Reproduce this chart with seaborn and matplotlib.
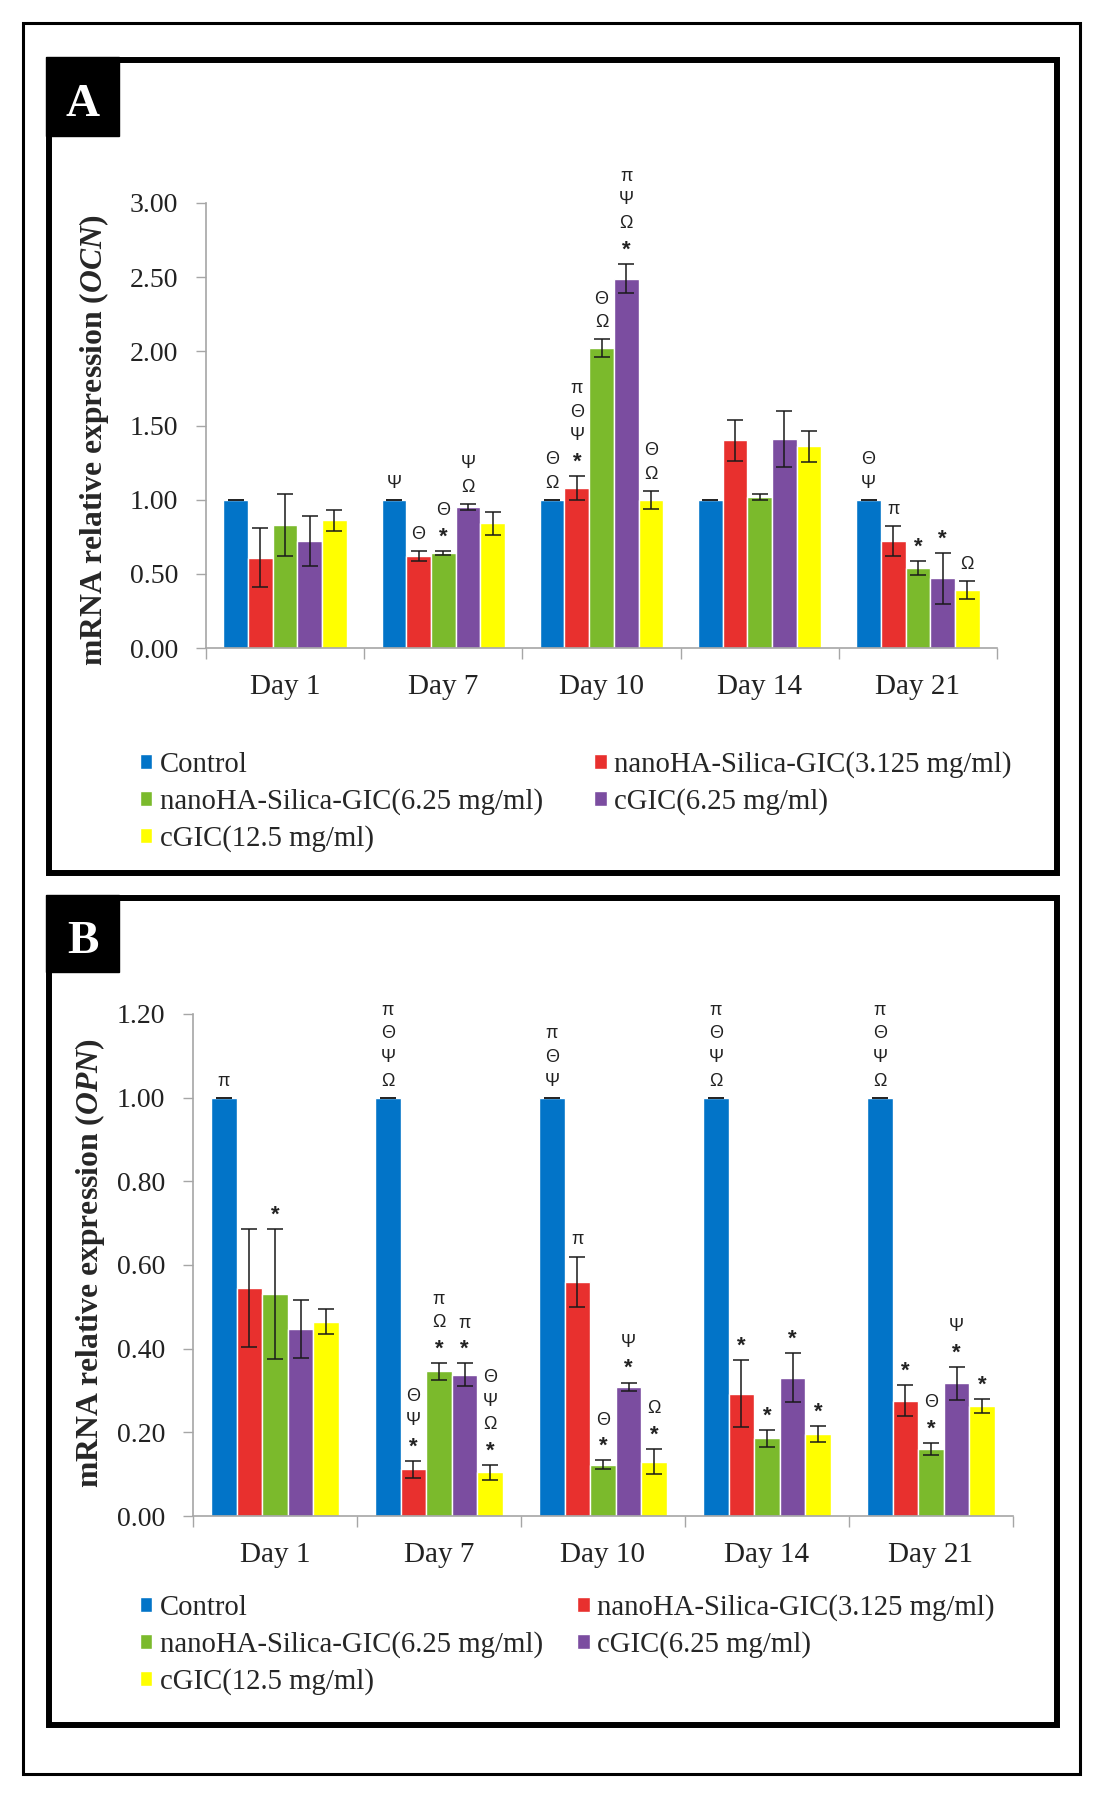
import numpy as np
import pandas as pd
import matplotlib
matplotlib.use("Agg")
import matplotlib.pyplot as plt
import seaborn as sns
from matplotlib.patches import Rectangle
from matplotlib.ticker import FormatStrFormatter, MultipleLocator, FixedLocator

days = ["Day 1", "Day 7", "Day 10", "Day 14", "Day 21"]
groups = ["Control", "nanoHA-Silica-GIC(3.125 mg/ml)", "nanoHA-Silica-GIC(6.25 mg/ml)",
          "cGIC(6.25 mg/ml)", "cGIC(12.5 mg/ml)"]
colors = ["#0274C8", "#E8302E", "#7BBA2C", "#7B4DA0", "#FFFF00"]

# panel A - OCN (one list per group, values per day)
ocn_control = [1.00, 1.00, 1.00, 1.00, 1.00]
ocn_nano3 = [0.61, 0.62, 1.08, 1.40, 0.72]
ocn_nano6 = [0.83, 0.64, 2.02, 1.02, 0.54]
ocn_cgic6 = [0.72, 0.95, 2.49, 1.41, 0.47]
ocn_cgic12 = [0.86, 0.84, 1.00, 1.36, 0.39]

ocn_control_err = [0.0, 0.0, 0.0, 0.0, 0.0]
ocn_nano3_err = [0.20, 0.035, 0.08, 0.14, 0.10]
ocn_nano6_err = [0.21, 0.015, 0.06, 0.02, 0.045]
ocn_cgic6_err = [0.17, 0.02, 0.10, 0.19, 0.17]
ocn_cgic12_err = [0.07, 0.08, 0.06, 0.105, 0.06]

# significance marks, top to bottom
ocn_control_sig = ["", "Ψ", "ΘΩ", "", "ΘΨ"]
ocn_nano3_sig = ["", "Θ", "πΘΨ*", "", "π"]
ocn_nano6_sig = ["", "Θ*", "ΘΩ", "", "*"]
ocn_cgic6_sig = ["", "ΨΩ", "πΨΩ*", "", "*"]
ocn_cgic12_sig = ["", "", "ΘΩ", "", "Ω"]

# panel B - OPN
opn_control = [1.00, 1.00, 1.00, 1.00, 1.00]
opn_nano3 = [0.545, 0.112, 0.56, 0.292, 0.275]
opn_nano6 = [0.53, 0.346, 0.123, 0.186, 0.16]
opn_cgic6 = [0.447, 0.338, 0.309, 0.331, 0.317]
opn_cgic12 = [0.464, 0.104, 0.13, 0.196, 0.263]

opn_control_err = [0.0, 0.0, 0.0, 0.0, 0.0]
opn_nano3_err = [0.14, 0.02, 0.06, 0.08, 0.037]
opn_nano6_err = [0.155, 0.02, 0.01, 0.02, 0.015]
opn_cgic6_err = [0.07, 0.027, 0.01, 0.058, 0.04]
opn_cgic12_err = [0.03, 0.018, 0.03, 0.018, 0.017]

opn_control_sig = ["π", "πΘΨΩ", "πΘΨ", "πΘΨΩ", "πΘΨΩ"]
opn_nano3_sig = ["", "ΘΨ*", "π", "*", "*"]
opn_nano6_sig = ["*", "πΩ*", "Θ*", "*", "Θ*"]
opn_cgic6_sig = ["", "π*", "Ψ*", "*", "Ψ*"]
opn_cgic12_sig = ["", "ΘΨΩ*", "Ω*", "*", "*"]

sns.set_theme(style="white")
plt.rcParams["font.family"] = ["Liberation Serif", "DejaVu Serif"]
plt.rcParams["mathtext.fontset"] = "custom"
plt.rcParams["mathtext.it"] = "Liberation Serif:italic:bold"
plt.rcParams["mathtext.rm"] = "Liberation Serif:bold"

W, H = 1100, 1800
fig = plt.figure(figsize=(11, 18), dpi=100)


def fx(px):
    return px / W


def fy(py):
    return 1 - py / H


def box(x0, y0, x1, y1, **kw):
    fig.add_artist(Rectangle((fx(x0), fy(y1)), fx(x1) - fx(x0), fy(y0) - fy(y1),
                             transform=fig.transFigure, **kw))


def draw_panel(ax, means, errs, sigs, ymax, step, gene, label_xy, leg_xy, colspace):
    rows = []
    for g, vals in zip(groups, means):
        for d, v in zip(days, vals):
            rows.append({"day": d, "group": g, "value": v})
    df = pd.DataFrame(rows)
    sns.barplot(data=df, x="day", y="value", hue="group", order=days, hue_order=groups,
                palette=colors, saturation=1, width=0.78, errorbar=None, legend=False, ax=ax)

    for cont, e, sg in zip(ax.containers, errs, sigs):
        xs = [p.get_x() + p.get_width() / 2 for p in cont]
        hs = [p.get_height() for p in cont]
        ax.errorbar(xs, hs, yerr=e, fmt="none", ecolor="#1a1a1a", elinewidth=1.1,
                    capsize=6, capthick=1.1, zorder=5)
        for x, h, er, s in zip(xs, hs, e, sg):
            for i, ch in enumerate(reversed(s)):
                star = ch == "*"
                ax.annotate(ch, (x, h + er), xytext=(0, 12 + 17 * i - (2 if star else 0)),
                            textcoords="offset points", ha="center", va="center",
                            fontsize=16 if star else 13, fontweight="bold" if star else "normal",
                            family="Liberation Sans", color="#222222", annotation_clip=False)

    ax.set_ylim(0, ymax)
    ax.set_xlim(-0.5, 4.5)
    ax.yaxis.set_major_locator(MultipleLocator(step))
    ax.yaxis.set_major_formatter(FormatStrFormatter("%.2f"))
    ax.xaxis.set_minor_locator(FixedLocator(np.arange(-0.5, 5, 1.0)))
    ax.tick_params(axis="y", length=7, width=1, color="#A6A6A6", pad=13,
                   labelsize=20, labelcolor="#222222", left=True)
    ax.tick_params(axis="x", which="major", length=0, pad=19, labelsize=21, labelcolor="#222222")
    ax.tick_params(axis="x", which="minor", length=8, width=1, color="#A6A6A6", bottom=True)
    for side in ["top", "right"]:
        ax.spines[side].set_visible(False)
    for side in ["left", "bottom"]:
        ax.spines[side].set_color("#A6A6A6")
        ax.spines[side].set_linewidth(1.2)
    ax.set_xlabel("")
    ax.set_ylabel("mRNA relative expression ($" + gene + "$)", fontsize=22.8, fontweight="bold")
    ax.yaxis.set_label_coords(fx(label_xy[0]), fy(label_xy[1]), transform=fig.transFigure)

    hd = list(ax.containers)
    order = [0, 2, 4, 1, 3]
    ax.legend([hd[i] for i in order], [groups[i] for i in order], ncol=2, frameon=False,
              loc="upper left", bbox_to_anchor=(fx(leg_xy[0]), fy(leg_xy[1])),
              bbox_transform=fig.transFigure, fontsize=20.7, handlelength=0.43,
              handleheight=0.43, handletextpad=0.25, columnspacing=colspace,
              labelspacing=0.36, borderpad=0, borderaxespad=0)


# frames
box(23, 23, 1080, 1774, fill=False, lw=2.2, ec="black")
box(49, 60, 1057, 873, fill=False, lw=4.3, ec="black")
box(49, 898, 1057, 1725, fill=False, lw=4.3, ec="black")
box(46, 57, 119, 136, fc="black", ec="black")
box(46, 895, 119, 972, fc="black", ec="black")
fig.text(fx(83), fy(105), "A", color="white", fontsize=34, fontweight="bold", ha="center", va="center")
fig.text(fx(83), fy(942), "B", color="white", fontsize=34, fontweight="bold", ha="center", va="center")

ax_a = fig.add_axes([fx(206), fy(648), fx(997) - fx(206), fy(203) - fy(648)])
draw_panel(ax_a,
           [ocn_control, ocn_nano3, ocn_nano6, ocn_cgic6, ocn_cgic12],
           [ocn_control_err, ocn_nano3_err, ocn_nano6_err, ocn_cgic6_err, ocn_cgic12_err],
           [ocn_control_sig, ocn_nano3_sig, ocn_nano6_sig, ocn_cgic6_sig, ocn_cgic12_sig],
           3.0, 0.5, "OCN", (111, 440), (140, 751), 1.8)

ax_b = fig.add_axes([fx(193), fy(1516), fx(1013) - fx(193), fy(1014) - fy(1516)])
draw_panel(ax_b,
           [opn_control, opn_nano3, opn_nano6, opn_cgic6, opn_cgic12],
           [opn_control_err, opn_nano3_err, opn_nano6_err, opn_cgic6_err, opn_cgic12_err],
           [opn_control_sig, opn_nano3_sig, opn_nano6_sig, opn_cgic6_sig, opn_cgic12_sig],
           1.2, 0.2, "OPN", (107, 1263), (140, 1594), 1.2)

fig.savefig("out.png", dpi=100, facecolor="white")
